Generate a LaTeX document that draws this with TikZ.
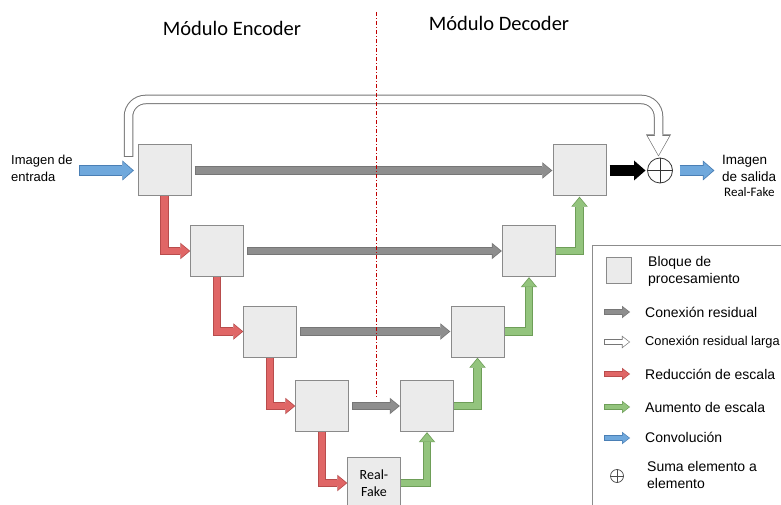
\documentclass[tikz,border=0pt]{standalone}
\usepackage{fontspec}
\setmainfont{Liberation Sans}
\newfontfamily\calib{Carlito}
\usetikzlibrary{arrows.meta,calc,backgrounds}
\definecolor{boxfill}{HTML}{EBEBEB}
\definecolor{boxline}{HTML}{8A8A8A}
\definecolor{grayin}{HTML}{8E8E8E}
\definecolor{grayout}{HTML}{767676}
\definecolor{redin}{HTML}{E06666}
\definecolor{redout}{HTML}{B84C4C}
\definecolor{greenin}{HTML}{93C47D}
\definecolor{greenout}{HTML}{6E9E58}
\definecolor{bluein}{HTML}{6FA8DC}
\definecolor{blueout}{HTML}{4A7FB5}
\definecolor{dashred}{HTML}{C00000}
\definecolor{legline}{HTML}{8C8C8C}
\tikzset{
  blk/.style={draw=boxline, fill=boxfill, line width=1bp, minimum width=53bp, minimum height=51bp, inner sep=0pt},
  fat/.style 2 args={line width=6.5bp, draw=#1, line join=miter,
     -{Triangle[width=13.5bp,length=8bp,line width'=0pt]},
     preaction={draw=#2, line width=8.5bp, -{Triangle[width=16.5bp,length=10bp,line width'=0pt]}, shorten >=-1.3bp, shorten <=-0.8bp}},
  fatT/.style 2 args={line width=9bp, draw=#1, line join=miter,
     -{Triangle[width=17bp,length=9.5bp,line width'=0pt]},
     preaction={draw=#2, line width=11bp, -{Triangle[width=20bp,length=11.5bp,line width'=0pt]}, shorten >=-1.4bp, shorten <=-0.8bp}},
  fatW/.style={line width=7.5bp, draw=white, line join=miter, rounded corners=17bp,
     -{Triangle[width=21.5bp,length=19bp,line width'=0pt]},
     preaction={draw=grayout, line width=9.5bp, -{Triangle[width=25bp,length=22bp,line width'=0pt]}, shorten >=-1.3bp, shorten <=-1bp}},
  icon/.style 2 args={line width=4.5bp, draw=#1, line join=miter,
     -{Triangle[width=10bp,length=6.5bp,line width'=0pt]},
     preaction={draw=#2, line width=6bp, -{Triangle[width=12.5bp,length=8bp,line width'=0pt]}, shorten >=-1bp, shorten <=-0.7bp}},
  iconW/.style={line width=4.2bp, draw=white, line join=miter,
     -{Triangle[width=10bp,length=6.5bp,line width'=0pt]},
     preaction={draw=grayout, line width=5.8bp, -{Triangle[width=12.8bp,length=8.2bp,line width'=0pt]}, shorten >=-1bp, shorten <=-0.8bp}},
  lab/.style={font=\fontsize{13bp}{16.5bp}\selectfont, align=left, inner sep=0pt},
  legt/.style={font=\fontsize{14bp}{17bp}\selectfont, align=left, inner sep=0pt, anchor=west},
  ttl/.style={font=\calib\fontsize{20.5bp}{24bp}\selectfont, inner sep=0pt},
}
\begin{document}
\begin{tikzpicture}[x=1bp,y=-1bp]
\useasboundingbox (0,0) rectangle (781,505);
\begin{scope}[on background layer]
\fill[white] (0,0) rectangle (781,505);
\end{scope}
% titles
\node[ttl] (tE) at (232,28) {Módulo Encoder};
\node[ttl] (tD) at (499,23) {Módulo Decoder};
% blocks
\node[blk] (E1) at (164.5,170.5) {};
\node[blk] (E2) at (217,251) {};
\node[blk] (E3) at (270,331.5) {};
\node[blk] (E4) at (322,406) {};
\node[blk, font=\calib\fontsize{14bp}{17bp}\selectfont, align=center] (RF) at (374,483) {Real-\\Fake};
\node[blk] (D4) at (427,406) {};
\node[blk] (D3) at (477.5,331.5) {};
\node[blk] (D2) at (529,251) {};
\node[blk] (D1) at (579.5,170.5) {};
\node[circle, draw=black!80, line width=0.8bp, minimum size=25bp, inner sep=0pt] (plus) at (660,170.5) {};
\draw[black!80, line width=0.8bp] (plus.north) -- (plus.south) (plus.west) -- (plus.east);
% labels
\node[lab, anchor=west] (inL) at (11,168.5) {Imagen de\\entrada};
\node[lab, anchor=west, font=\fontsize{13.5bp}{17bp}\selectfont] (outL) at (722,168.5) {Imagen\\de salida};
\node[font=\calib\fontsize{13bp}{15bp}\selectfont, anchor=west, inner sep=0pt] (outRF) at (724,192) {Real-Fake};
% coordinates
\coordinate (inS) at (80,170.5);
\coordinate (outE) at (713,170.5);
\coordinate (lrS) at (128.5,156);
\coordinate (lrT) at (128.5,99.5);
\coordinate (dT) at (376,12);
\coordinate (dB) at (376,399);
% arrows
\begin{scope}[on background layer]
\draw[fatW] (lrS) -- (lrT) -| ($(plus.north)+(-1.5,-2.5)$);
\draw[fatT={bluein}{blueout}] (inS) -- ($(E1.west)+(-5,0)$);
\draw[fat={grayin}{grayout}] ($(E1.east)+(4,0)$) -- ($(D1.west)+(-1.5,0)$);
\draw[fat={grayin}{grayout}] ($(E2.east)+(4,0)$) -- ($(D2.west)+(-1.5,0)$);
\draw[fat={grayin}{grayout}] ($(E3.east)+(4,0)$) -- ($(D3.west)+(-1.5,0)$);
\draw[fat={grayin}{grayout}] ($(E4.east)+(4,0)$) -- ($(D4.west)+(-1.5,0)$);
\draw[fat={redin}{redout}] (E1.south) |- ($(E2.west)+(-1,0)$);
\draw[fat={redin}{redout}] (E2.south) |- ($(E3.west)+(-1,0)$);
\draw[fat={redin}{redout}] (E3.south) |- ($(E4.west)+(-1,0)$);
\draw[fat={redin}{redout}] (E4.south) |- ($(RF.west)+(-1,0)$);
\draw[fat={greenin}{greenout}] (RF.east) -| ($(D4.south)+(0,1.5)$);
\draw[fat={greenin}{greenout}] (D4.east) -| ($(D3.south)+(0,1.5)$);
\draw[fat={greenin}{greenout}] (D3.east) -| ($(D2.south)+(0,1.5)$);
\draw[fat={greenin}{greenout}] (D2.east) -| ($(D1.south)+(0,1.5)$);
\draw[fatT={black}{black}] ($(D1.east)+(4,0)$) -- ($(plus.west)+(-3,0)$);
\draw[fatT={bluein}{blueout}] ($(plus.east)+(7.5,0)$) -- (outE);
\end{scope}
% divider
\draw[dashred, line width=1bp, dash pattern=on 4bp off 2bp on 1bp off 2bp] (dT) -- (dB);
% legend
\draw[legline, line width=1bp, fill=white] (592,246) rectangle (800,520);
\node[blk, minimum width=25bp, minimum height=25bp] (lgB) at (618.5,270.5) {};
\node[legt] (tB) at (648,271) {Bloque de\\procesamiento};
\coordinate (g1a) at (605,312); \coordinate (g1b) at (629,312);
\draw[icon={grayin}{grayout}] (g1a) -- (g1b);
\node[legt] (tG) at (645,312) {Conexión residual};
\coordinate (g2a) at (605,342); \coordinate (g2b) at (629,342);
\draw[iconW] (g2a) -- (g2b);
\node[legt, font=\fontsize{12.8bp}{16bp}\selectfont] (tW) at (645,342) {Conexión residual larga};
\coordinate (g3a) at (605,374); \coordinate (g3b) at (629,374);
\draw[icon={redin}{redout}] (g3a) -- (g3b);
\node[legt] (tR) at (645,374) {Reducción de escala};
\coordinate (g4a) at (605,407); \coordinate (g4b) at (629,407);
\draw[icon={greenin}{greenout}] (g4a) -- (g4b);
\node[legt] (tGr) at (645,407) {Aumento de escala};
\coordinate (g5a) at (605,438); \coordinate (g5b) at (629,438);
\draw[icon={bluein}{blueout}] (g5a) -- (g5b);
\node[legt] (tBl) at (645,437) {Convolución};
\node[circle, draw=black!70, line width=0.7bp, minimum size=13bp, inner sep=0pt] (lgP) at (617,476) {};
\draw[black!70, line width=0.7bp] (lgP.north) -- (lgP.south) (lgP.west) -- (lgP.east);
\node[legt] (tS) at (647,474.5) {Suma elemento a\\elemento};
\end{tikzpicture}
\end{document}
